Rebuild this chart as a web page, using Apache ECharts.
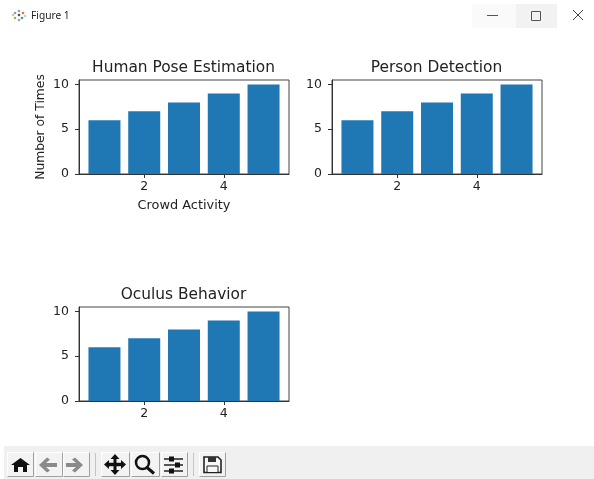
<!DOCTYPE html>
<html>
<head>
<meta charset="utf-8">
<title>Figure 1</title>
<script src="https://cdn.jsdelivr.net/npm/echarts@6/dist/echarts.min.js"></script>
<style>
  html, body { margin: 0; padding: 0; background: #fff; }
  #main { width: 594px; height: 479px; }
</style>
</head>
<body>
<div id="main"></div>
<script>
const panelTitles = ["Human Pose Estimation", "Person Detection", "Oculus Behavior"];
const xValues = [1, 2, 3, 4, 5];
const barValues = [6, 7, 8, 9, 10];
const xTicks = [2, 4];
const yTicks = [0, 5, 10];

const font = "DejaVu Sans";
const ink = "#222";

// pixel boxes of the three subplots
const boxes = [
  { left: 79, top: 80 },
  { left: 332, top: 80 },
  { left: 79, top: 307 }
];
const plotW = 210, plotH = 94;

// toolbar + window chrome, these are not data
function chrome() {
  const items = [];
  const rect = (x, y, width, height, fill, stroke) =>
    items.push({ type: 'rect', shape: { x, y, width, height }, style: { fill, stroke: stroke || null, lineWidth: 1 }, silent: true });
  const poly = (points, fill) =>
    items.push({ type: 'polygon', shape: { points }, style: { fill }, silent: true });
  const pline = (points, stroke, lineWidth) =>
    items.push({ type: 'polyline', shape: { points }, style: { fill: null, stroke, lineWidth: lineWidth || 1 }, silent: true });

  // title bar
  rect(472, 4, 44, 24, '#fafafa');
  rect(516, 4, 41, 24, '#f2f2f2');
  rect(487, 15, 11, 1, '#555');
  rect(531.5, 11.5, 9, 9, null, '#555');
  pline([[573, 10], [583, 20]], '#444');
  pline([[583, 10], [573, 20]], '#444');
  items.push({ type: 'text', style: { x: 31, y: 16, text: 'Figure 1', font: '10.2px "Noto Sans"', fill: '#222', verticalAlign: 'middle' }, silent: true });
  const dots = [[19, 11, '#7aa6c8'], [23, 13, '#d9793a'], [15, 13, '#999'], [19, 15, '#555'], [22, 18, '#5b9a5b'], [15, 18, '#c9a04a'], [19, 20, '#8aa'], [13, 15, '#bcd'], [25, 16, '#bcd']];
  dots.forEach(d => items.push({ type: 'circle', shape: { cx: d[0], cy: d[1], r: 1.3 }, style: { fill: d[2] }, silent: true }));

  // toolbar
  rect(4, 446, 590, 33, '#f0f0f0');
  [[7, 26], [35, 27], [63, 26], [101, 28], [131, 28], [161, 26], [199, 26]].forEach(b => {
    rect(b[0] + 0.5, 452.5, b[1], 24, '#f3f3f3', null);
    pline([[b[0] + 0.5, 476.5], [b[0] + 0.5, 452.5], [b[0] + b[1] + 0.5, 452.5]], '#ffffff');
    pline([[b[0] + b[1] + 0.5, 452.5], [b[0] + b[1] + 0.5, 476.5], [b[0] + 0.5, 476.5]], '#a0a0a0');
  });
  rect(95, 453, 1, 23, '#c4c4c4');
  rect(193, 453, 1, 23, '#c4c4c4');

  // home
  poly([[11, 465], [20.5, 458], [30, 465], [27, 465], [27, 472], [23, 472], [23, 467], [18, 467], [18, 472], [14, 472], [14, 465]], '#111');
  // back / forward
  poly([[39, 465], [47, 457.5], [50, 459.5], [46, 463], [57, 463], [57, 467], [46, 467], [50, 470.5], [47, 472.5]], '#8a8a8a');
  poly([[83, 465], [75, 457.5], [72, 459.5], [76, 463], [66, 463], [66, 467], [76, 467], [72, 470.5], [75, 472.5]], '#8a8a8a');
  // move
  poly([[115, 454], [119.5, 459], [116.5, 459], [116.5, 462.7], [121, 462.7], [121, 460], [126, 464.5], [121, 469], [121, 466.3], [116.5, 466.3], [116.5, 470], [119.5, 470], [115, 475], [110.5, 470], [113.5, 470], [113.5, 466.3], [109, 466.3], [109, 469], [104, 464.5], [109, 460], [109, 462.7], [113.5, 462.7], [113.5, 459], [110.5, 459]], '#111');
  // zoom
  items.push({ type: 'circle', shape: { cx: 142.5, cy: 462.5, r: 6.5 }, style: { fill: null, stroke: '#111', lineWidth: 2.5 }, silent: true });
  pline([[147, 467.5], [154, 473.5]], '#111', 3);
  // sliders
  pline([[164, 459], [183, 459]], '#222', 1.5);
  pline([[164, 465], [183, 465]], '#222', 1.5);
  pline([[164, 471], [183, 471]], '#222', 1.5);
  rect(169, 456.5, 5, 5, '#111');
  rect(175, 462.5, 5, 5, '#111');
  rect(169, 468.5, 5, 5, '#111');
  // save
  items.push({ type: 'polygon', shape: { points: [[204, 457], [218, 457], [221, 460], [221, 472.5], [204, 472.5]] }, style: { fill: '#f7f7f7', stroke: '#222', lineWidth: 1.6 }, silent: true });
  rect(208, 457, 8, 5, '#333');
  rect(207, 466, 11, 6.5, '#f7f7f7', '#222');
  return items;
}

const barData = xValues.map((x, i) => [x, barValues[i]]);

const option = {
  animation: false,
  backgroundColor: '#fff',
  title: boxes.map((b, i) => ({
    text: panelTitles[i],
    left: b.left + plotW / 2 - 5.5,
    top: b.top - 25,
    textAlign: 'center',
    textStyle: { fontFamily: font, fontSize: 15.4, fontWeight: 'normal', color: ink }
  })),
  grid: boxes.map(b => ({
    left: b.left, top: b.top, width: plotW, height: plotH,
    show: true, borderColor: '#444', borderWidth: 1, backgroundColor: '#fff'
  })),
  xAxis: boxes.map((b, i) => ({
    type: 'value',
    gridIndex: i,
    min: 0.36,
    max: 5.64,
    name: i === 0 ? 'Crowd Activity' : '',
    nameLocation: 'middle',
    nameGap: 25,
    nameTextStyle: { fontFamily: font, fontSize: 12.9, color: ink },
    splitLine: { show: false },
    axisLine: { show: true, onZero: false, lineStyle: { color: '#333' } },
    axisTick: { show: true, length: 4, customValues: xTicks, lineStyle: { color: '#333' } },
    axisLabel: { customValues: xTicks, margin: 6, fontFamily: font, fontSize: 12.5, color: ink }
  })),
  yAxis: boxes.map((b, i) => ({
    type: 'value',
    gridIndex: i,
    min: 0,
    max: 10.5,
    name: i === 0 ? 'Number of Times' : '',
    nameLocation: 'middle',
    nameGap: 32.5,
    nameTextStyle: { fontFamily: font, fontSize: 12.3, color: ink },
    splitLine: { show: false },
    axisLine: { show: true, lineStyle: { color: '#333' } },
    axisTick: { show: true, length: 4, customValues: yTicks, lineStyle: { color: '#333' } },
    axisLabel: { customValues: yTicks, margin: 10, fontFamily: font, fontSize: 12.5, color: ink }
  })),
  series: boxes.map((b, i) => ({
    type: 'bar',
    xAxisIndex: i,
    yAxisIndex: i,
    data: barData,
    barWidth: 32,
    itemStyle: { color: '#1f77b4' }
  })),
  graphic: { elements: chrome() }
};

const chart = echarts.init(document.getElementById("main"));
chart.setOption(option);
</script>
</body>
</html>
